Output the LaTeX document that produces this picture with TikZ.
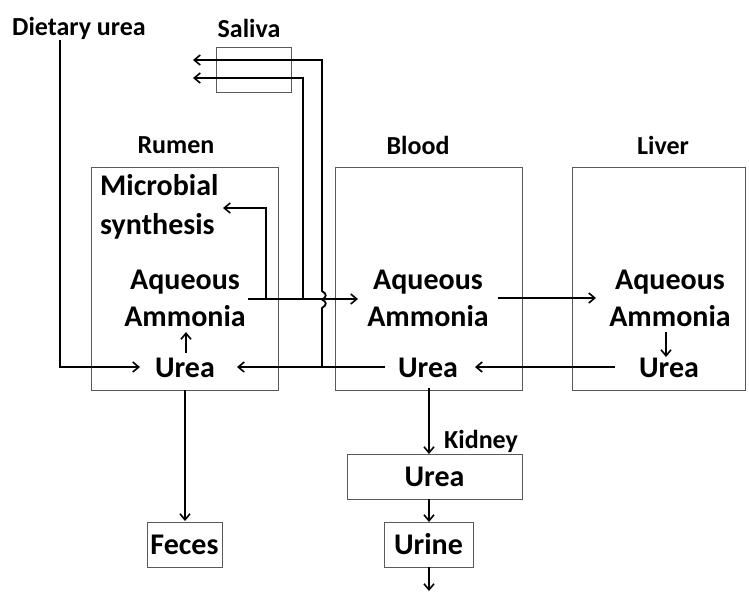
\documentclass[tikz,border=0pt]{standalone}
\usepackage{fontspec}
\setmainfont{Carlito}
\usetikzlibrary{arrows.meta}
\begin{document}
\begin{tikzpicture}[x=1pt,y=-1pt,
  big/.style={font=\fontsize{30}{37}\selectfont\bfseries, inner sep=0pt, align=center},
  small/.style={font=\fontsize{26}{30}\selectfont\bfseries, inner sep=0pt},
  panel/.style={draw=black!65, line width=0.9pt},
  flow/.style={line width=1.8pt, -{Straight Barb[length=6pt,width=10pt,line width=1.6pt]}},
  plain/.style={line width=1.8pt}]
\useasboundingbox[fill=white] (0,0) rectangle (749,592);
% panels
\node[panel, minimum width=75pt, minimum height=45pt, inner sep=0pt] (salbox) at (253.5,69.5) {};
\node[panel, minimum width=187pt, minimum height=223pt, inner sep=0pt] (rumenbox) at (184.5,278.5) {};
\node[panel, minimum width=187pt, minimum height=223pt, inner sep=0pt] (bloodbox) at (428.5,278.5) {};
\node[panel, minimum width=173pt, minimum height=223pt, inner sep=0pt] (liverbox) at (658.5,278.5) {};
\node[panel, minimum width=175pt, minimum height=45pt, inner sep=0pt, big] (kurea) at (434.5,476.5) {Urea};
\node[panel, minimum width=89pt, minimum height=45pt, inner sep=0pt, big] (urine) at (428.5,544.5) {Urine};
\node[panel, minimum width=75pt, minimum height=45pt, inner sep=0pt, big] (feces) at (184.5,544.5) {Feces};
% labels
\node[small] (diet) at (79,28) {Dietary urea};
\node[small] (saliva) at (249,28) {Saliva};
\node[small] (rumen) at (176,145) {Rumen};
\node[small] (blood) at (418,145) {Blood};
\node[small] (liver) at (663,145) {Liver};
\node[small] (kidney) at (481,441) {Kidney};
\node[big, align=left, anchor=west, font=\fontsize{30}{39}\selectfont\bfseries] (micro) at (100,207) {Microbial\\synthesis};
\node[big] (raq) at (185,298) {Aqueous\\Ammonia};
\node[big] (baq) at (428,298) {Aqueous\\Ammonia};
\node[big] (laq) at (670,298) {Aqueous\\Ammonia};
\node[big] (rurea) at (185,368) {Urea};
\node[big] (burea) at (428,368) {Urea};
\node[big] (lurea) at (669,368) {Urea};
% coordinates
\coordinate (d0) at (60,40);
\coordinate (d1) at (60,367);
\coordinate (d2) at (140,367);
\coordinate (ru0) at (186,353);
\coordinate (ru1) at (186,332);
\coordinate (la0) at (666,332);
\coordinate (la1) at (666,357);
\coordinate (ra0) at (248,299);
\coordinate (ra1) at (358,299);
\coordinate (mb0) at (266,299);
\coordinate (mb1) at (266,208);
\coordinate (mb2) at (223,208);
\coordinate (s1a) at (303,299);
\coordinate (s1b) at (303,78);
\coordinate (s1c) at (193,78);
\coordinate (s2a) at (322,367);
\coordinate (s2h0) at (322,308);
\coordinate (s2h1) at (322,291);
\coordinate (s2b) at (322,60);
\coordinate (s2c) at (193,60);
\coordinate (bu0) at (385,367);
\coordinate (bu1) at (237,367);
\coordinate (lu0) at (615,367);
\coordinate (lu1) at (475,367);
\coordinate (ba0) at (498,298);
\coordinate (ba1) at (596,298);
\coordinate (bd0) at (429,388);
\coordinate (bd1) at (429,454);
\coordinate (kd0) at (429,499);
\coordinate (kd1) at (429,522);
\coordinate (ud0) at (429,567);
\coordinate (ud1) at (429,591);
\coordinate (fd0) at (185,390);
\coordinate (fd1) at (185,521);
% connectors
\draw[flow] (d0) -- (d1) -- (d2);
\draw[flow] (ru0) -- (ru1);
\draw[flow] (la0) -- (la1);
\draw[flow] (ra0) -- (ra1);
\draw[flow] (mb0) -- (mb1) -- (mb2);
\draw[flow] (s1a) -- (s1b) -- (s1c);
\draw[flow] (s2a) -- (s2h0) .. controls (327,305) and (327,302) .. (322,299.5) .. controls (327,297) and (327,294) .. (s2h1) -- (s2b) -- (s2c);
\draw[flow] (bu0) -- (bu1);
\draw[flow] (lu0) -- (lu1);
\draw[flow] (ba0) -- (ba1);
\draw[flow] (bd0) -- (bd1);
\draw[flow] (kd0) -- (kd1);
\draw[flow] (ud0) -- (ud1);
\draw[flow] (fd0) -- (fd1);
\end{tikzpicture}
\end{document}
